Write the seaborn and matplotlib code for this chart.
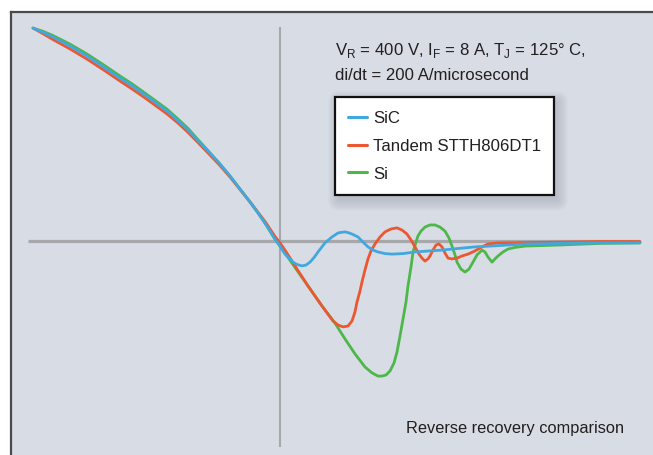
import matplotlib
matplotlib.use("Agg")
import matplotlib.pyplot as plt
from matplotlib.lines import Line2D
from matplotlib.patches import FancyBboxPatch
import seaborn as sns
import pandas as pd

# Reverse-recovery current waveforms (time in ns, current in A)
sic_t = [-61.75, -59.25, -56.75, -52.5, -48.25, -44.25, -40, -36.75, -33.75, -31, -28.25,
         -25.5, -23, -20.5, -18, -15.25, -12.5, -10, -7.5, -5.5, -3.75, -1.25, 0,
         1.25, 3.25, 4.25, 5.5, 6.5, 7.5, 8.5, 9.5, 11.25, 13, 14.5, 15.375, 16.25, 17.125,
         18, 19.5, 20.75, 22, 23.25, 24.5, 26.25, 28, 30.75, 33.75, 37.5, 40.5, 44.5, 48.75,
         52.5, 57, 61.25, 70, 80, 90]
sic_i = [7.96, 7.80, 7.63, 7.29, 6.92, 6.52, 6.09, 5.78, 5.46, 5.16, 4.86,
         4.50, 4.15, 3.76, 3.36, 2.92, 2.43, 1.94, 1.46, 1.05, 0.67, 0.07, -0.19,
         -0.49, -0.79, -0.88, -0.93, -0.90, -0.79, -0.62, -0.41, -0.07, 0.15, 0.30, 0.325,
         0.34, 0.31, 0.26, 0.15, -0.04, -0.22, -0.34, -0.41, -0.47, -0.49, -0.47, -0.41,
         -0.37, -0.34, -0.28, -0.22, -0.19, -0.15, -0.11, -0.09, -0.07, -0.07]

tandem_t = [-61.75, -59.25, -56.75, -52.5, -48.25, -44.25, -40, -36.75, -33.75, -31, -28.25,
            -25.5, -23, -20.5, -18, -15.25, -12.5, -10, -7.5, -5.5, -3.75, -1.25, 0,
            1.25, 3.75, 7, 10.5, 13.25, 14.5, 15.75, 17, 18, 18.75, 19.25, 20, 20.5, 21.25, 22,
            22.75, 23.75, 25, 26.25, 27.75, 29.25, 30.5, 31.75, 32.75, 33.75, 34.75, 35.5, 36.25,
            37, 37.5, 38.25, 39, 39.75, 40.5, 41.25, 42, 43, 44.25, 45.5, 47, 48.75, 50.5, 52,
            54.5, 57, 61.25, 70, 80, 90]
tandem_i = [7.96, 7.75, 7.53, 7.18, 6.80, 6.41, 5.98, 5.66, 5.35, 5.05, 4.75,
            4.41, 4.06, 3.68, 3.29, 2.86, 2.39, 1.93, 1.46, 1.07, 0.73, 0.17, -0.07,
            -0.34, -0.93, -1.68, -2.43, -2.99, -3.14, -3.21, -3.18, -2.99, -2.65, -2.28, -1.87,
            -1.53, -1.08, -0.67, -0.37, -0.11, 0.15, 0.34, 0.45, 0.49, 0.41, 0.26, 0.04, -0.22,
            -0.49, -0.64, -0.75, -0.67, -0.56, -0.34, -0.15, -0.11, -0.22, -0.45, -0.64, -0.67,
            -0.64, -0.56, -0.49, -0.37, -0.22, -0.11, -0.07, -0.07, -0.06, -0.04, -0.02, -0.02]

si_t = [-61.75, -59.25, -56.75, -52.5, -48.25, -44.25, -40, -36.75, -33.75, -31, -28.25,
        -25.5, -23, -20.5, -18, -15.25, -12.5, -10, -7.5, -5.5, -3.75, -1.25,
        1.25, 3.75, 7, 10.5, 13.75, 16.25, 18.75, 21.25, 23, 24.5, 25.5, 26.5, 27.5, 28.5,
        29.25, 30, 30.75, 31.5, 32, 32.75, 33.25, 34, 34.5, 35.25, 36.25, 37.5, 38.75, 40,
        41.25, 42.25, 43, 43.75, 44.25, 45.25, 46.25, 47.25, 48.25, 49.25, 50.5, 51.25, 52,
        53, 53.75, 54.5, 55.75, 57, 58.75, 61.25, 70, 80, 90]
si_i = [7.96, 7.84, 7.68, 7.36, 6.99, 6.60, 6.17, 5.85, 5.53, 5.23, 4.93,
        4.56, 4.21, 3.79, 3.38, 2.92, 2.43, 1.94, 1.46, 1.05, 0.67, 0.07,
        -0.45, -0.99, -1.68, -2.43, -3.07, -3.66, -4.22, -4.71, -4.93, -5.05, -5.05, -5.01,
        -4.86, -4.56, -4.15, -3.55, -2.92, -2.28, -1.68, -0.97, -0.41, -0.04, 0.19, 0.37,
        0.52, 0.60, 0.60, 0.52, 0.37, 0.11, -0.19, -0.52, -0.79, -1.05, -1.16, -1.05, -0.79,
        -0.52, -0.34, -0.41, -0.60, -0.79, -0.67, -0.56, -0.41, -0.30, -0.24, -0.19, -0.15,
        -0.09, -0.07]

labels = ["SiC", "Tandem STTH806DT1", "Si"]
colors = {"SiC": "#41a8df", "Tandem STTH806DT1": "#ec5731", "Si": "#4db74a"}

frames = [
    pd.DataFrame({"t": sic_t, "i": sic_i, "diode": "SiC"}),
    pd.DataFrame({"t": tandem_t, "i": tandem_i, "diode": "Tandem STTH806DT1"}),
    pd.DataFrame({"t": si_t, "i": si_i, "diode": "Si"}),
]
df = pd.concat(frames, ignore_index=True)

sns.set_style("white")
plt.rcParams["font.family"] = ["Liberation Sans", "DejaVu Sans"]
plt.rcParams["mathtext.fontset"] = "custom"
plt.rcParams["mathtext.rm"] = "Liberation Sans"

W, H = 653, 456
fig = plt.figure(figsize=(W / 100, H / 100), dpi=100, facecolor="white")
ax = fig.add_axes([11 / W, 0, (W - 11) / W, (H - 13) / H])
ax.set_facecolor("#d8dce4")
ax.set_xlim(-67.25, 93.25)
ax.set_ylim(-8.0, 8.561)
ax.set_xticks([])
ax.set_yticks([])
for side in ("right", "bottom"):
    ax.spines[side].set_visible(False)
for side in ("left", "top"):
    ax.spines[side].set_color("#4a4a4a")
    ax.spines[side].set_linewidth(1.6)

# Zero-current and zero-time reference lines
ax.plot([-63, 90], [0, 0], color="#a7a8ab", lw=2.3, zorder=1, solid_capstyle="butt")
ax.plot([0, 0], [7.99, -7.7], color="#a7a8ab", lw=1.5, zorder=1, solid_capstyle="butt")

# Draw Si first so SiC sits on top
for name, z in (("Si", 2), ("Tandem STTH806DT1", 3), ("SiC", 4)):
    sub = df[df["diode"] == name]
    sns.lineplot(data=sub, x="t", y="i", ax=ax, color=colors[name], lw=2.0,
                 sort=False, estimator=None, zorder=z, legend=False)
for ln in ax.lines[2:]:
    ln.set_solid_joinstyle("round")
    ln.set_solid_capstyle("round")
ax.set_xlabel("")
ax.set_ylabel("")


def fx(px):
    return px / W


def fy(py):
    return 1 - py / H


txt_color = "#231f20"
fig.text(fx(335), fy(55),
         r"V$_\mathregular{R}$ = 400 V, I$_\mathregular{F}$ = 8 A, T$_\mathregular{J}$ = 125° C,",
         fontsize=12.1, color=txt_color, va="baseline", ha="left")
fig.text(fx(335), fy(80), "di/dt = 200 A/microsecond",
         fontsize=12.1, color=txt_color, va="baseline", ha="left")
fig.text(fx(406), fy(433), "Reverse recovery comparison",
         fontsize=11.8, color=txt_color, va="baseline", ha="left")

# Soft shadow behind the legend box
lx0, ly0, lx1, ly1 = 335, 98, 551, 194
for grow in range(1, 13):
    ax.add_patch(FancyBboxPatch((fx(lx0 + 5), fy(ly1 + 6)),
                                (lx1 - lx0) / W, (ly1 - ly0) / H,
                                boxstyle=f"round,pad={grow / W},rounding_size={grow / W}",
                                transform=fig.transFigure, facecolor="#8f95a3", alpha=0.035,
                                edgecolor="none", zorder=5, mutation_aspect=W / H))

handles = [Line2D([], [], color=colors[n], lw=2.2) for n in labels]
leg = ax.legend(handles, labels, loc="upper left",
                bbox_to_anchor=(fx(lx0), fy(ly0)), bbox_transform=fig.transFigure,
                borderaxespad=0, frameon=True, fancybox=False, framealpha=1,
                edgecolor="#111111", facecolor="white", fontsize=12.1,
                handlelength=1.1, handletextpad=0.35, labelspacing=0.77,
                borderpad=0.8, labelcolor=txt_color)
leg.get_frame().set_linewidth(1.6)
leg.set_zorder(6)

fig.savefig("out.png", dpi=100, facecolor="white")
